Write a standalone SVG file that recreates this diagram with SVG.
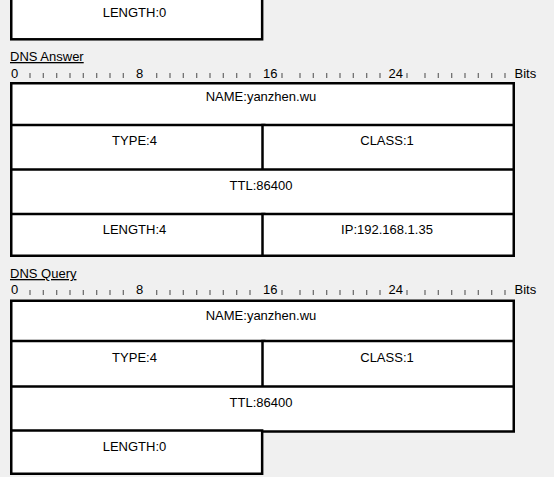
<svg xmlns="http://www.w3.org/2000/svg" width="554" height="477" viewBox="0 0 554 477">
<style>
  text { font-family: "Liberation Sans", Arial, sans-serif; font-size: 13px; fill: #000; }
  .c { text-anchor: middle; }
  .box { fill: #fff; stroke: #000; stroke-width: 2.5; }
  .tick { stroke: #666; stroke-width: 1.2; fill: none; }
  .sec { text-decoration: underline; }
</style>
<rect x="0" y="0" width="554" height="477" fill="#f0f0f0"/>

<!-- Leftover box at top -->
<g id="top-length">
  <rect class="box" x="11.25" y="-6" width="250.9" height="45.3"/>
  <text class="c" x="134.5" y="16.7">LENGTH:0</text>
</g>

<!-- DNS Answer section -->
<g id="answer-header">
  <text class="sec" x="10" y="61">DNS Answer</text>
  <text x="11" y="77.5">0</text>
  <text x="136" y="77.5">8</text>
  <text x="263" y="77.5">16</text>
  <text x="388.5" y="77.5">24</text>
  <text x="514.5" y="77.5">Bits</text>
  <path class="tick" d="M30 73V78M43.3 73V78M56.7 73V78M70 73V78M83.3 73V78M96.7 73V78M110 73V78M123.3 73V78
    M156.7 73V78M170 73V78M183.3 73V78M196.7 73V78M210 73V78M223.3 73V78M236.7 73V78M250 73V78
    M282 73V78M300 73V78M313.3 73V78M326.7 73V78M340 73V78M353.3 73V78M366.7 73V78M380 73V78
    M407 73V78M425 73V78M438.3 73V78M451.7 73V78M465 73V78M478.3 73V78M491.7 73V78M505 73V78"/>
</g>
<g id="answer-name">
  <rect class="box" x="11.25" y="83.25" width="502.5" height="43"/>
  <text class="c" x="261" y="100.5">NAME:yanzhen.wu</text>
</g>
<g id="answer-type">
  <rect class="box" x="11.25" y="125" width="253" height="45.5"/>
  <text class="c" x="134.5" y="145">TYPE:4</text>
</g>
<g id="answer-class">
  <rect class="box" x="262.5" y="125" width="251.25" height="45.5"/>
  <text class="c" x="387" y="145">CLASS:1</text>
</g>
<g id="answer-ttl">
  <rect class="box" x="11.25" y="169.5" width="502.5" height="45.5"/>
  <text class="c" x="261" y="190">TTL:86400</text>
</g>
<g id="answer-length">
  <rect class="box" x="11.25" y="214" width="253" height="41.75"/>
  <text class="c" x="134.5" y="233.5">LENGTH:4</text>
</g>
<g id="answer-ip">
  <rect class="box" x="262.5" y="214" width="251.25" height="41.75"/>
  <text class="c" x="387" y="233.5">IP:192.168.1.35</text>
</g>

<!-- DNS Query section -->
<g id="query-header">
  <text class="sec" x="10" y="278">DNS Query</text>
  <text x="11" y="294.3">0</text>
  <text x="136" y="294.3">8</text>
  <text x="263" y="294.3">16</text>
  <text x="388.5" y="294.3">24</text>
  <text x="514.5" y="294.3">Bits</text>
  <path class="tick" d="M30 290V295M43.3 290V295M56.7 290V295M70 290V295M83.3 290V295M96.7 290V295M110 290V295M123.3 290V295
    M156.7 290V295M170 290V295M183.3 290V295M196.7 290V295M210 290V295M223.3 290V295M236.7 290V295M250 290V295
    M282 290V295M300 290V295M313.3 290V295M326.7 290V295M340 290V295M353.3 290V295M366.7 290V295M380 290V295
    M407 290V295M425 290V295M438.3 290V295M451.7 290V295M465 290V295M478.3 290V295M491.7 290V295M505 290V295"/>
</g>
<g id="query-name">
  <rect class="box" x="11.25" y="300.75" width="502.5" height="41.25"/>
  <text class="c" x="261" y="319.5">NAME:yanzhen.wu</text>
</g>
<g id="query-type">
  <rect class="box" x="11.25" y="341" width="253" height="46.5"/>
  <text class="c" x="134.5" y="361.5">TYPE:4</text>
</g>
<g id="query-class">
  <rect class="box" x="262.5" y="341" width="251.25" height="46.5"/>
  <text class="c" x="387" y="361.5">CLASS:1</text>
</g>
<g id="query-ttl">
  <rect class="box" x="11.25" y="386.5" width="502.5" height="45"/>
  <text class="c" x="261" y="406.7">TTL:86400</text>
</g>
<g id="query-length">
  <rect class="box" x="11.25" y="430.5" width="250.9" height="43.25"/>
  <text class="c" x="134.5" y="450.7">LENGTH:0</text>
</g>
</svg>
